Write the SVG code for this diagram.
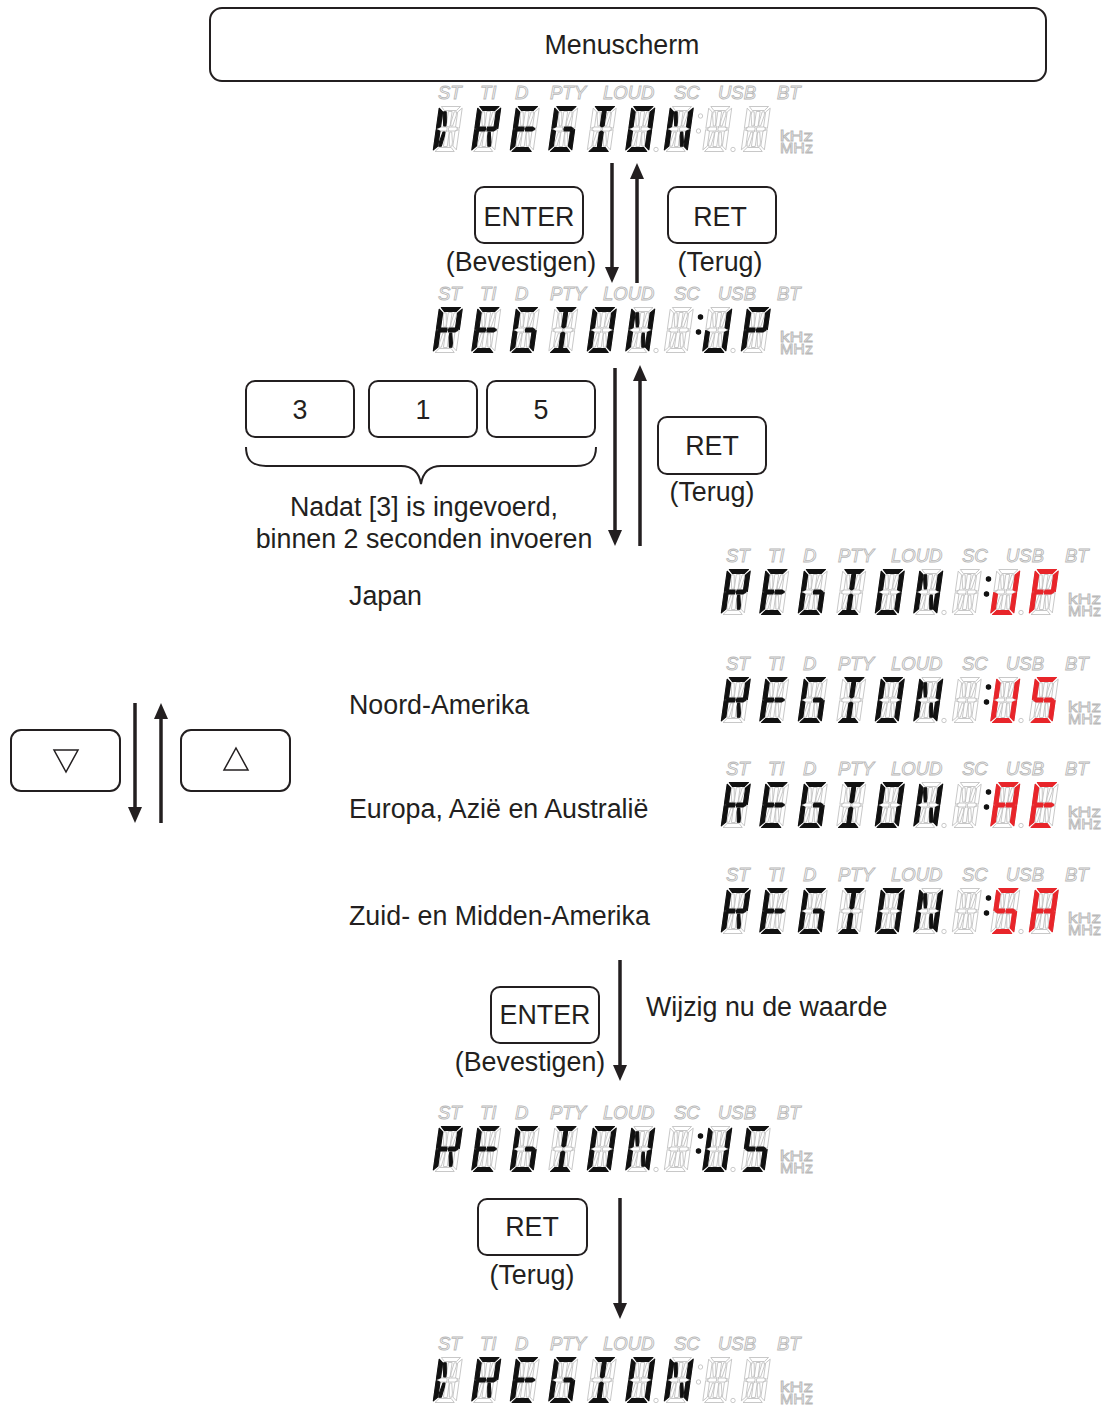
<svg xmlns="http://www.w3.org/2000/svg" xmlns:xlink="http://www.w3.org/1999/xlink" width="1104" height="1407" viewBox="0 0 1104 1407">
<defs>
<style>
.t{font-family:"Liberation Sans",Arial,sans-serif;font-size:26.8px;fill:#231f20;text-anchor:middle}
.tl{font-family:"Liberation Sans",Arial,sans-serif;font-size:26.8px;fill:#231f20;text-anchor:start}
.box{fill:#fff;stroke:#231f20;stroke-width:2}
.arr{stroke:#231f20;stroke-width:3.5;fill:none;marker-end:url(#ah)}
.off{fill:#fff;stroke:#b8b8b8;stroke-width:0.75}
.k{fill:#111;stroke:#111;stroke-width:1.1;stroke-linejoin:round}
.r{fill:#e8252a;stroke:#e8252a;stroke-width:1.1;stroke-linejoin:round}
.ind{font-family:"Liberation Sans",Arial,sans-serif;font-style:italic;font-size:18.5px;fill:#fff;stroke:#b8b8b8;stroke-width:0.9}
.unit{font-family:"Liberation Sans",Arial,sans-serif;font-size:14px;fill:#fff;stroke:#b8b8b8;stroke-width:0.8}
</style>
<marker id="ah" markerUnits="userSpaceOnUse" markerWidth="16" markerHeight="14" refX="8" refY="7" orient="auto" viewBox="0 0 16 14"><path d="M0,0 L16,7 L0,14 z" fill="#231f20"/></marker>
<polygon id="sa" points="2.4,0.5 21.6,0.5 18,4.5 6,4.5"/>
<polygon id="sb" points="23.5,2.2 23.5,22.4 19.5,20.8 19.5,6"/>
<polygon id="sc" points="23.5,23.6 23.5,43.8 19.5,40 19.5,25.2"/>
<polygon id="sd" points="6,41.5 18,41.5 21.6,45.5 2.4,45.5"/>
<polygon id="se" points="0.5,23.6 4.5,25.2 4.5,40 0.5,43.8"/>
<polygon id="sf" points="0.5,2.2 4.5,6 4.5,20.8 0.5,22.4"/>
<polygon id="sg1" points="1.8,23 4.6,21 10.8,21 11.4,23 10.8,25 4.6,25"/>
<polygon id="sg2" points="12.6,23 13.2,21 19.4,21 22.2,23 19.4,25 13.2,25"/>
<polygon id="si" points="10.1,5.5 13.9,5.5 13.9,19.8 12,21 10.1,19.8"/>
<polygon id="sl" points="10.1,26.2 12,25 13.9,26.2 13.9,40.5 10.1,40.5"/>
<polygon id="sh" points="5.5,5.8 8,5.8 9.6,16 9.6,20 7.6,20 5.5,9.8"/>
<polygon id="sj" points="18.5,5.8 16,5.8 14.4,16 14.4,20 16.4,20 18.5,9.8"/>
<polygon id="sk" points="9.6,26 9.6,30 8,40.2 5.5,40.2 5.5,36.2 7.6,26"/>
<polygon id="sm" points="14.4,26 16.4,26 18.5,36.2 18.5,40.2 16,40.2 14.4,30"/>
<g id="cell" class="off"><use href="#sa"/><use href="#sb"/><use href="#sc"/><use href="#sd"/><use href="#se"/><use href="#sf"/><use href="#sg1"/><use href="#sg2"/><use href="#si"/><use href="#sl"/><use href="#sh"/><use href="#sj"/><use href="#sk"/><use href="#sm"/></g>
<g id="cGT"><use href="#sf"/><use href="#sh"/><use href="#sk"/><use href="#se"/></g>
<g id="cR"><use href="#sa"/><use href="#sb"/><use href="#sf"/><use href="#sg1"/><use href="#sg2"/><use href="#se"/><use href="#sm"/></g>
<g id="cE"><use href="#sa"/><use href="#sf"/><use href="#sg1"/><use href="#sg2"/><use href="#se"/><use href="#sd"/></g>
<g id="cG"><use href="#sa"/><use href="#sf"/><use href="#se"/><use href="#sd"/><use href="#sc"/><use href="#sg2"/></g>
<g id="cI"><use href="#sa"/><use href="#sd"/><use href="#si"/><use href="#sl"/></g>
<g id="cO"><use href="#sa"/><use href="#sb"/><use href="#sc"/><use href="#sd"/><use href="#se"/><use href="#sf"/></g>
<g id="cN"><use href="#sf"/><use href="#se"/><use href="#sb"/><use href="#sc"/><use href="#sh"/><use href="#sm"/></g>
<g id="cJ"><use href="#sb"/><use href="#sc"/><use href="#sd"/><use href="#se"/></g>
<g id="cP"><use href="#sa"/><use href="#sb"/><use href="#sf"/><use href="#sg1"/><use href="#sg2"/><use href="#se"/></g>
<g id="cU"><use href="#sb"/><use href="#sc"/><use href="#sd"/><use href="#se"/><use href="#sf"/></g>
<g id="cS"><use href="#sa"/><use href="#sf"/><use href="#sg1"/><use href="#sg2"/><use href="#sc"/><use href="#sd"/></g>
<g id="cA"><use href="#sa"/><use href="#sb"/><use href="#sc"/><use href="#se"/><use href="#sf"/><use href="#sg1"/><use href="#sg2"/></g>
<g id="colon"><circle cx="267.5" cy="32" r="2.2"/><circle cx="265.5" cy="47" r="2.2"/></g>
<g id="disp">
<text class="ind" x="5" y="15">ST</text>
<text class="ind" x="47" y="15">TI</text>
<text class="ind" x="82" y="15">D</text>
<text class="ind" x="117" y="15">PTY</text>
<text class="ind" x="170" y="15">LOUD</text>
<text class="ind" x="241" y="15">SC</text>
<text class="ind" x="285" y="15">USB</text>
<text class="ind" x="344" y="15">BT</text>
<use href="#cell" transform="translate(6,22) skewX(-8)"/>
<use href="#cell" transform="translate(44.5,22) skewX(-8)"/>
<use href="#cell" transform="translate(83,22) skewX(-8)"/>
<use href="#cell" transform="translate(121.5,22) skewX(-8)"/>
<use href="#cell" transform="translate(160,22) skewX(-8)"/>
<use href="#cell" transform="translate(198.5,22) skewX(-8)"/>
<use href="#cell" transform="translate(237,22) skewX(-8)"/>
<use href="#cell" transform="translate(275.5,22) skewX(-8)"/>
<use href="#cell" transform="translate(314,22) skewX(-8)"/>
<circle class="off" cx="223" cy="65.5" r="2.2"/>
<circle class="off" cx="300" cy="65.5" r="2.2"/>
<use href="#colon" class="off"/>
<text class="unit" x="347" y="57" textLength="33" lengthAdjust="spacingAndGlyphs">kHz</text>
<text class="unit" x="347" y="69" textLength="33" lengthAdjust="spacingAndGlyphs">MHz</text>
</g>
</defs>
<rect width="1104" height="1407" fill="#fff"/>

<g id="connectors">
<line class="arr" x1="612" y1="163" x2="612" y2="275"/>
<line class="arr" x1="637" y1="283" x2="637" y2="171"/>
<line class="arr" x1="615" y1="368" x2="615" y2="538"/>
<line class="arr" x1="640" y1="546" x2="640" y2="373"/>
<line class="arr" x1="135" y1="703" x2="135" y2="815"/>
<line class="arr" x1="161" y1="823" x2="161" y2="711"/>
<line class="arr" x1="620" y1="960" x2="620" y2="1073"/>
<line class="arr" x1="620" y1="1198" x2="620" y2="1311"/>
<path d="M246,447 C246,460 252,466 266,466 L401,466 C413,466 419,472 421,484 C423,472 429,466 441,466 L576,466 C590,466 596,460 596,447" fill="none" stroke="#231f20" stroke-width="2"/>
</g>

<g id="menu">
<rect class="box" x="210" y="8" width="836" height="73" rx="12"/>
<text class="t" x="622" y="54">Menuscherm</text>
</g>

<g id="disp-region-menu" transform="translate(433,84)">
<use href="#disp"/>
<use href="#cGT" class="k" transform="translate(6,22) skewX(-8)"/>
<use href="#cR" class="k" transform="translate(44.5,22) skewX(-8)"/>
<use href="#cE" class="k" transform="translate(83,22) skewX(-8)"/>
<use href="#cG" class="k" transform="translate(121.5,22) skewX(-8)"/>
<use href="#cI" class="k" transform="translate(160,22) skewX(-8)"/>
<use href="#cO" class="k" transform="translate(198.5,22) skewX(-8)"/>
<use href="#cN" class="k" transform="translate(237,22) skewX(-8)"/>
</g>

<g id="btn-enter-1">
<rect class="box" x="475" y="187" width="108" height="56" rx="9"/>
<text class="t" x="529" y="226">ENTER</text>
<text class="t" x="521" y="271">(Bevestigen)</text>
</g>
<g id="btn-ret-1">
<rect class="box" x="668" y="187" width="108" height="56" rx="9"/>
<text class="t" x="720" y="226">RET</text>
<text class="t" x="720" y="271">(Terug)</text>
</g>

<g id="disp-region-jp" transform="translate(433,285)">
<use href="#disp"/>
<use href="#cR" class="k" transform="translate(6,22) skewX(-8)"/>
<use href="#cE" class="k" transform="translate(44.5,22) skewX(-8)"/>
<use href="#cG" class="k" transform="translate(83,22) skewX(-8)"/>
<use href="#cI" class="k" transform="translate(121.5,22) skewX(-8)"/>
<use href="#cO" class="k" transform="translate(160,22) skewX(-8)"/>
<use href="#cN" class="k" transform="translate(198.5,22) skewX(-8)"/>
<use href="#colon" class="k"/>
<use href="#cJ" class="k" transform="translate(275.5,22) skewX(-8)"/>
<use href="#cP" class="k" transform="translate(314,22) skewX(-8)"/>
</g>

<g id="btn-3"><rect class="box" x="246" y="381" width="108" height="56" rx="9"/><text class="t" x="300" y="419">3</text></g>
<g id="btn-1"><rect class="box" x="369" y="381" width="108" height="56" rx="9"/><text class="t" x="423" y="419">1</text></g>
<g id="btn-5"><rect class="box" x="487" y="381" width="108" height="56" rx="9"/><text class="t" x="541" y="419">5</text></g>
<g id="note-315">
<text class="t" x="424" y="516">Nadat [3] is ingevoerd,</text>
<text class="t" x="424" y="548">binnen 2 seconden invoeren</text>
</g>
<g id="btn-ret-2">
<rect class="box" x="658" y="417" width="108" height="57" rx="9"/>
<text class="t" x="712" y="455">RET</text>
<text class="t" x="712" y="501">(Terug)</text>
</g>

<g id="lbl-japan"><text class="tl" x="349" y="605">Japan</text></g>
<g id="disp-japan" transform="translate(721,547)">
<use href="#disp"/>
<use href="#cR" class="k" transform="translate(6,22) skewX(-8)"/>
<use href="#cE" class="k" transform="translate(44.5,22) skewX(-8)"/>
<use href="#cG" class="k" transform="translate(83,22) skewX(-8)"/>
<use href="#cI" class="k" transform="translate(121.5,22) skewX(-8)"/>
<use href="#cO" class="k" transform="translate(160,22) skewX(-8)"/>
<use href="#cN" class="k" transform="translate(198.5,22) skewX(-8)"/>
<use href="#colon" class="k"/>
<use href="#cJ" class="r" transform="translate(275.5,22) skewX(-8)"/>
<use href="#cP" class="r" transform="translate(314,22) skewX(-8)"/>
</g>

<g id="lbl-noord"><text class="tl" x="349" y="714">Noord-Amerika</text></g>
<g id="disp-noord" transform="translate(721,655)">
<use href="#disp"/>
<use href="#cR" class="k" transform="translate(6,22) skewX(-8)"/>
<use href="#cE" class="k" transform="translate(44.5,22) skewX(-8)"/>
<use href="#cG" class="k" transform="translate(83,22) skewX(-8)"/>
<use href="#cI" class="k" transform="translate(121.5,22) skewX(-8)"/>
<use href="#cO" class="k" transform="translate(160,22) skewX(-8)"/>
<use href="#cN" class="k" transform="translate(198.5,22) skewX(-8)"/>
<use href="#colon" class="k"/>
<use href="#cU" class="r" transform="translate(275.5,22) skewX(-8)"/>
<use href="#cS" class="r" transform="translate(314,22) skewX(-8)"/>
</g>

<g id="lbl-europa"><text class="tl" x="349" y="818">Europa, Azië en Australië</text></g>
<g id="disp-europa" transform="translate(721,760)">
<use href="#disp"/>
<use href="#cR" class="k" transform="translate(6,22) skewX(-8)"/>
<use href="#cE" class="k" transform="translate(44.5,22) skewX(-8)"/>
<use href="#cG" class="k" transform="translate(83,22) skewX(-8)"/>
<use href="#cI" class="k" transform="translate(121.5,22) skewX(-8)"/>
<use href="#cO" class="k" transform="translate(160,22) skewX(-8)"/>
<use href="#cN" class="k" transform="translate(198.5,22) skewX(-8)"/>
<use href="#colon" class="k"/>
<use href="#cA" class="r" transform="translate(275.5,22) skewX(-8)"/>
<use href="#cE" class="r" transform="translate(314,22) skewX(-8)"/>
</g>

<g id="lbl-zuid"><text class="tl" x="349" y="925">Zuid- en Midden-Amerika</text></g>
<g id="disp-zuid" transform="translate(721,866)">
<use href="#disp"/>
<use href="#cR" class="k" transform="translate(6,22) skewX(-8)"/>
<use href="#cE" class="k" transform="translate(44.5,22) skewX(-8)"/>
<use href="#cG" class="k" transform="translate(83,22) skewX(-8)"/>
<use href="#cI" class="k" transform="translate(121.5,22) skewX(-8)"/>
<use href="#cO" class="k" transform="translate(160,22) skewX(-8)"/>
<use href="#cN" class="k" transform="translate(198.5,22) skewX(-8)"/>
<use href="#colon" class="k"/>
<use href="#cS" class="r" transform="translate(275.5,22) skewX(-8)"/>
<use href="#cA" class="r" transform="translate(314,22) skewX(-8)"/>
</g>

<g id="btn-updown">
<rect class="box" x="11" y="730" width="109" height="61" rx="10"/>
<polygon points="54,750 78,750 66,772" fill="none" stroke="#231f20" stroke-width="1.5"/>
<rect class="box" x="181" y="730" width="109" height="61" rx="10"/>
<polygon points="236,748 248,770 224,770" fill="none" stroke="#231f20" stroke-width="1.5"/>
</g>

<g id="btn-enter-2">
<rect class="box" x="491" y="987" width="108" height="56" rx="9"/>
<text class="t" x="545" y="1024">ENTER</text>
<text class="t" x="530" y="1071">(Bevestigen)</text>
</g>
<g id="lbl-wijzig"><text class="tl" x="646" y="1016">Wijzig nu de waarde</text></g>

<g id="disp-region-us" transform="translate(433,1104)">
<use href="#disp"/>
<use href="#cR" class="k" transform="translate(6,22) skewX(-8)"/>
<use href="#cE" class="k" transform="translate(44.5,22) skewX(-8)"/>
<use href="#cG" class="k" transform="translate(83,22) skewX(-8)"/>
<use href="#cI" class="k" transform="translate(121.5,22) skewX(-8)"/>
<use href="#cO" class="k" transform="translate(160,22) skewX(-8)"/>
<use href="#cN" class="k" transform="translate(198.5,22) skewX(-8)"/>
<use href="#colon" class="k"/>
<use href="#cU" class="k" transform="translate(275.5,22) skewX(-8)"/>
<use href="#cS" class="k" transform="translate(314,22) skewX(-8)"/>
</g>

<g id="btn-ret-3">
<rect class="box" x="478" y="1199" width="109" height="56" rx="9"/>
<text class="t" x="532" y="1236">RET</text>
<text class="t" x="532" y="1284">(Terug)</text>
</g>

<g id="disp-region-final" transform="translate(433,1335)">
<use href="#disp"/>
<use href="#cGT" class="k" transform="translate(6,22) skewX(-8)"/>
<use href="#cR" class="k" transform="translate(44.5,22) skewX(-8)"/>
<use href="#cE" class="k" transform="translate(83,22) skewX(-8)"/>
<use href="#cG" class="k" transform="translate(121.5,22) skewX(-8)"/>
<use href="#cI" class="k" transform="translate(160,22) skewX(-8)"/>
<use href="#cO" class="k" transform="translate(198.5,22) skewX(-8)"/>
<use href="#cN" class="k" transform="translate(237,22) skewX(-8)"/>
</g>
</svg>
